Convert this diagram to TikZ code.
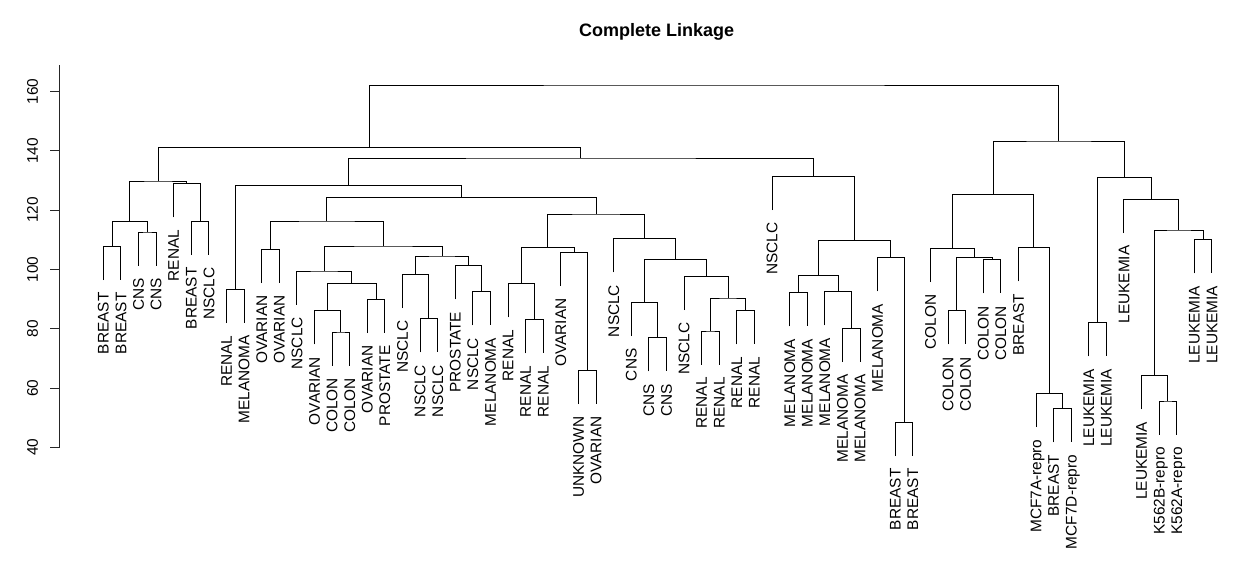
\documentclass[tikz,border=0pt]{standalone}
\usepackage{fontspec}
\setmainfont{Liberation Sans}
\usetikzlibrary{calc}
\tikzset{
  dline/.style={draw=black,line width=1pt},
  axisline/.style={draw=black!85,line width=1pt},
  leaflab/.style={rotate=90,anchor=east,inner sep=0pt,text depth=0pt,font=\fontsize{15.4}{18}\selectfont},
  ticklab/.style={rotate=90,anchor=center,inner sep=0pt,text depth=0pt,font=\fontsize{15.4}{18}\selectfont},
  titlelab/.style={anchor=base,inner sep=0pt,font=\bfseries\fontsize{18}{22}\selectfont}
}
\newcommand\mrg[4]{%
  \coordinate (tmpmid) at ($(#2)!0.5!(#3)$);
  \coordinate (#1) at (tmpmid |- 0,#4);
  \draw[dline] (#2) |- (#1) -| (#3);}
\begin{document}
\begin{tikzpicture}[x=1pt,y=-1pt]
\useasboundingbox[fill=white] (0,0) rectangle (1240,565);
% title
\node[titlelab] (title) at (656.7,36) {Complete Linkage};
% axis
\coordinate (axtop) at (59.5,65);
\coordinate (axbot) at (59.5,447.3);
\draw[axisline] (axtop) -- (axbot);
\foreach \v in {40,60,...,160}{
  \coordinate (tk\v) at (59.5,{447.3-(\v-40)*2.965});
  \draw[axisline] (tk\v) -- ++(-9.5,0);
  \node[ticklab] (tl\v) at (32.5,{447.3-(\v-40)*2.965}) {\v};
}
% leaves
\foreach \i/\ye/\lab in {
 1/280.0/BREAST, 2/280.0/BREAST, 3/265.7/CNS, 4/265.7/CNS, 5/217.4/RENAL,
 6/255.0/BREAST, 7/255.0/NSCLC, 8/323.0/RENAL, 9/323.0/MELANOMA,
 10/283.0/OVARIAN, 11/283.0/OVARIAN, 12/304.7/NSCLC, 13/344.4/OVARIAN,
 14/365.7/COLON, 15/365.7/COLON, 16/333.0/OVARIAN, 17/333.0/PROSTATE,
 18/308.0/NSCLC, 19/352.4/NSCLC, 20/352.4/NSCLC, 21/299.4/PROSTATE,
 22/325.4/NSCLC, 23/325.4/MELANOMA, 24/317.4/RENAL, 25/353.4/RENAL,
 26/353.4/RENAL, 27/286.0/OVARIAN, 28/404.0/UNKNOWN, 29/404.0/OVARIAN,
 30/272.4/NSCLC, 31/336.0/CNS, 32/371.4/CNS, 33/371.4/CNS, 34/310.0/NSCLC,
 35/364.7/RENAL, 36/364.7/RENAL, 37/344.4/RENAL, 38/344.4/RENAL,
 39/210.0/NSCLC, 40/326.4/MELANOMA, 41/326.4/MELANOMA, 42/325.4/MELANOMA,
 43/362.0/MELANOMA, 44/362.0/MELANOMA, 45/291.4/MELANOMA, 46/456.0/BREAST,
 47/456.0/BREAST, 48/282.0/COLON, 49/344.4/COLON, 50/344.4/COLON,
 51/293.4/COLON, 52/293.4/COLON, 53/281.4/BREAST, 54/427.0/MCF7A-repro,
 55/442.4/BREAST, 56/442.4/MCF7D-repro, 57/356.4/LEUKEMIA, 58/356.4/LEUKEMIA,
 59/233.0/LEUKEMIA, 60/409.4/LEUKEMIA, 61/434.7/K562B-repro, 62/434.7/K562A-repro,
 63/273.4/LEUKEMIA, 64/273.4/LEUKEMIA}{
  \coordinate (L\i) at ({103.3+(\i-1)*17.598},\ye);
  \node[leaflab] (T\i) at ($(L\i)+(0,12.3)$) {\lab};
}
% merges
\mrg{m12}{L1}{L2}{246.3}
\mrg{m34}{L3}{L4}{232}
\mrg{m1234}{m12}{m34}{221.3}
\mrg{m67}{L6}{L7}{221.3}
\mrg{m567}{L5}{m67}{183.7}
\mrg{mA}{m1234}{m567}{181}
\mrg{m89}{L8}{L9}{289.3}
\mrg{m1011}{L10}{L11}{249.3}
\mrg{m1415}{L14}{L15}{332}
\mrg{m1315}{L13}{m1415}{310.7}
\mrg{m1617}{L16}{L17}{299.3}
\mrg{m1317}{m1315}{m1617}{283.7}
\mrg{m1217}{L12}{m1317}{271}
\mrg{m1920}{L19}{L20}{318.7}
\mrg{m1820}{L18}{m1920}{274.3}
\mrg{m2223}{L22}{L23}{291.7}
\mrg{m2123}{L21}{m2223}{265.7}
\mrg{m1823}{m1820}{m2123}{256}
\mrg{m1223}{m1217}{m1823}{246}
\mrg{m1023}{m1011}{m1223}{221}
\mrg{m2526}{L25}{L26}{319.7}
\mrg{m2426}{L24}{m2526}{283.7}
\mrg{m2829}{L28}{L29}{370.3}
\mrg{m2729}{L27}{m2829}{252.3}
\mrg{m2429}{m2426}{m2729}{247.3}
\mrg{m3233}{L32}{L33}{337.7}
\mrg{m3133}{L31}{m3233}{302.3}
\mrg{m3536}{L35}{L36}{331}
\mrg{m3738}{L37}{L38}{310.7}
\mrg{m3538}{m3536}{m3738}{298}
\mrg{m3438}{L34}{m3538}{276.3}
\mrg{m3138}{m3133}{m3438}{259.7}
\mrg{m3038}{L30}{m3138}{238.7}
\mrg{m2438}{m2429}{m3038}{214}
\mrg{m1038}{m1023}{m2438}{197.3}
\mrg{m838}{m89}{m1038}{185.7}
\mrg{m4041}{L40}{L41}{292.7}
\mrg{m4344}{L43}{L44}{328.3}
\mrg{m4244}{L42}{m4344}{291.7}
\mrg{m4044}{m4041}{m4244}{275.3}
\mrg{m4647}{L46}{L47}{422.3}
\mrg{m4547}{L45}{m4647}{257.7}
\mrg{m4047}{m4044}{m4547}{240.3}
\mrg{m3947}{L39}{m4047}{176.3}
\mrg{m847}{m838}{m3947}{158}
\mrg{m147}{mA}{m847}{147.3}
\mrg{m4950}{L49}{L50}{310.7}
\mrg{m5152}{L51}{L52}{259.7}
\mrg{m4952}{m4950}{m5152}{257.7}
\mrg{m4852}{L48}{m4952}{248.3}
\mrg{m5556}{L55}{L56}{408.7}
\mrg{m5456}{L54}{m5556}{393.3}
\mrg{m5356}{L53}{m5456}{247.7}
\mrg{m4856}{m4852}{m5356}{194.5}
\mrg{m5758}{L57}{L58}{322.7}
\mrg{m6162}{L61}{L62}{401}
\mrg{m6062}{L60}{m6162}{375.7}
\mrg{m6364}{L63}{L64}{239.7}
\mrg{m6064}{m6062}{m6364}{230}
\mrg{m5964}{L59}{m6064}{199.3}
\mrg{m5764}{m5758}{m5964}{177.3}
\mrg{m4864}{m4856}{m5764}{141}
\mrg{root}{m147}{m4864}{85}
\end{tikzpicture}
\end{document}
